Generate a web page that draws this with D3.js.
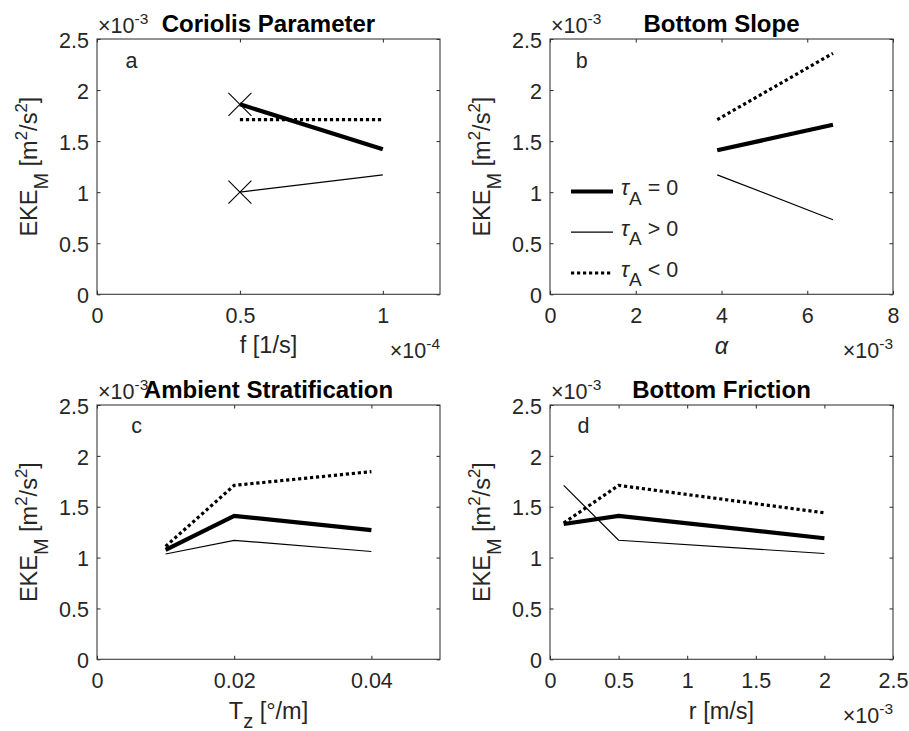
<!DOCTYPE html>
<html>
<head>
<meta charset="utf-8">
<script src="https://cdn.jsdelivr.net/npm/d3@7"></script>
<style>
  html, body { margin: 0; padding: 0; background: #fff; }
  svg { display: block; font-family: "Liberation Sans", Arial, Helvetica, sans-serif; }
</style>
</head>
<body>
<svg id="chart" width="909" height="731"></svg>
<script>
// EKE_M (×10^-3 m^2/s^2) against each varied parameter, for three wind cases.
const yTicks = [0, 0.5, 1, 1.5, 2, 2.5];

// (a) Coriolis parameter, f in units of 1e-4 1/s
const fValues = [0.5, 1];
const fTauZero = [1.86, 1.42];
const fTauPos = [1.00, 1.17];
const fTauNeg = [1.71, 1.71];
const fMarkX = [0.5, 0.5];
const fMarkY = [1.86, 1.00];
const fTicks = [0, 0.5, 1];

// (b) Bottom slope, alpha in units of 1e-3
const alphaValues = [3.9, 6.6];
const alphaTauZero = [1.41, 1.66];
const alphaTauPos = [1.17, 0.73];
const alphaTauNeg = [1.71, 2.36];
const alphaTicks = [0, 2, 4, 6, 8];

// (c) Ambient stratification, Tz in °/m
const tzValues = [0.01, 0.02, 0.04];
const tzTauZero = [1.075, 1.41, 1.27];
const tzTauPos = [1.035, 1.17, 1.06];
const tzTauNeg = [1.11, 1.71, 1.845];
const tzTicks = [0, 0.02, 0.04];

// (d) Bottom friction, r in units of 1e-3 m/s
const rValues = [0.1, 0.5, 2];
const rTauZero = [1.33, 1.41, 1.19];
const rTauPos = [1.71, 1.17, 1.04];
const rTauNeg = [1.34, 1.71, 1.44];
const rTicks = [0, 0.5, 1, 1.5, 2, 2.5];

const legendLabels = ["= 0", "> 0", "< 0"];

const TICK_FS = 21.5, LABEL_FS = 23.5, TITLE_FS = 24;
const INK = "#262626";

const styles = {
  zero: { width: 4.2, dash: null },
  pos:  { width: 1.2, dash: null },
  neg:  { width: 3.2, dash: "3.2,2.8" }
};

const svg = d3.select("#chart");

// rich text helper: parts = [{t, sub, sup, italic, fs, shift}]
function rich(textSel, parts, baseSize) {
  let shift = 0;
  parts.forEach(p => {
    let target = 0, size = baseSize;
    if (p.sup) { target = -baseSize * 0.42; size = baseSize * 0.72; }
    if (p.sub) { target = baseSize * (p.shift || 0.45); size = baseSize * 0.85; }
    if (p.fs) size = p.fs;
    const ts = textSel.append("tspan").text(p.t)
      .attr("font-size", size)
      .attr("dy", target - shift);
    if (p.italic) ts.attr("font-style", "italic");
    shift = target;
  });
}

const panels = [
  { key: "a", box: { x: 97, y: 39, w: 343, h: 255.3 }, xDomain: [0, 1.2], xTicks: fTicks,
    xs: fValues, zero: fTauZero, pos: fTauPos, neg: fTauNeg,
    title: "Coriolis Parameter", tag: "a", tagX: 0.1, xExp: "-4",
    xLabel: [{ t: "f [1/s]" }], xLabelDy: 59 },
  { key: "b", box: { x: 550, y: 39, w: 343, h: 255.3 }, xDomain: [0, 8], xTicks: alphaTicks,
    xs: alphaValues, zero: alphaTauZero, pos: alphaTauPos, neg: alphaTauNeg,
    title: "Bottom Slope", tag: "b", tagX: 0.6, xExp: "-3",
    xLabel: [{ t: "α", italic: true }], xLabelDy: 60, legend: true },
  { key: "c", box: { x: 97, y: 405, w: 343, h: 254.3 }, xDomain: [0, 0.05], xTicks: tzTicks,
    xs: tzValues, zero: tzTauZero, pos: tzTauPos, neg: tzTauNeg,
    title: "Ambient Stratification", tag: "c", tagX: 0.005, xExp: null,
    xLabel: [{ t: "T" }, { t: "z", sub: true, shift: 0.36 }, { t: " [°/m]" }], xLabelDy: 60 },
  { key: "d", box: { x: 550, y: 405, w: 343, h: 254.3 }, xDomain: [0, 2.5], xTicks: rTicks,
    xs: rValues, zero: rTauZero, pos: rTauPos, neg: rTauNeg,
    title: "Bottom Friction", tag: "d", tagX: 0.2, xExp: "-3",
    xLabel: [{ t: "r [m/s]" }], xLabelDy: 60 }
];

const fmt = d => String(+d.toFixed(4));

panels.forEach(p => {
  const b = p.box;
  const x = d3.scaleLinear().domain(p.xDomain).range([b.x, b.x + b.w]);
  const y = d3.scaleLinear().domain([0, 2.5]).range([b.y + b.h, b.y]);
  const g = svg.append("g").attr("class", "panel-" + p.key);

  // axes with inward ticks on all four sides
  const tk = -3.5;
  const ax = g.append("g").attr("transform", `translate(0,${b.y + b.h})`)
    .call(d3.axisBottom(x).tickValues(p.xTicks).tickFormat(fmt).tickSize(tk).tickPadding(13.5));
  const axTop = g.append("g").attr("transform", `translate(0,${b.y})`)
    .call(d3.axisTop(x).tickValues(p.xTicks).tickSize(tk));
  const ay = g.append("g").attr("transform", `translate(${b.x},0)`)
    .call(d3.axisLeft(y).tickValues(yTicks).tickFormat(fmt).tickSize(tk).tickPadding(8));
  const ayR = g.append("g").attr("transform", `translate(${b.x + b.w},0)`)
    .call(d3.axisRight(y).tickValues(yTicks).tickSize(tk));
  [axTop, ayR].forEach(a => a.selectAll(".tick text").remove());
  [ax, axTop, ay, ayR].forEach(a => {
    a.select(".domain").remove();
    a.selectAll(".tick line").attr("stroke", INK).attr("stroke-width", 1);
    a.selectAll(".tick text").attr("fill", INK).attr("font-size", TICK_FS)
      .attr("font-family", "Liberation Sans, Arial, sans-serif");
  });
  ay.selectAll(".tick text").attr("dy", "0.38em");

  g.append("rect").attr("x", b.x).attr("y", b.y).attr("width", b.w).attr("height", b.h)
    .attr("fill", "none").attr("stroke", "#3a3a3a").attr("stroke-width", 1.1);

  // data lines
  const line = d3.line().x(d => x(d[0])).y(d => y(d[1]));
  [["pos", p.pos], ["zero", p.zero], ["neg", p.neg]].forEach(([k, vals]) => {
    const pts = p.xs.map((xv, i) => [xv, vals[i]]);
    const s = styles[k];
    g.append("path").datum(pts).attr("d", line)
      .attr("fill", "none").attr("stroke", "#000")
      .attr("stroke-width", s.width)
      .attr("stroke-dasharray", s.dash)
      .attr("stroke-linejoin", "miter");
  });

  // cross markers in panel a
  if (p.key === "a") {
    const ms = 11.5;
    fMarkX.forEach((mx, i) => {
      const cx = x(mx), cy = y(fMarkY[i]);
      g.append("path")
        .attr("d", `M${cx - ms},${cy - ms}L${cx + ms},${cy + ms}M${cx - ms},${cy + ms}L${cx + ms},${cy - ms}`)
        .attr("stroke", "#000").attr("stroke-width", 1.1).attr("fill", "none");
    });
  }

  // panel tag
  g.append("text").attr("x", x(p.tagX)).attr("y", y(2.22))
    .attr("font-size", TICK_FS).attr("fill", INK).text(p.tag);

  // y multiplier (drawn before the title so the title sits on top)
  const ym = g.append("text").attr("x", b.x + 1).attr("y", b.y - 6)
    .attr("fill", INK).attr("font-size", TICK_FS);
  rich(ym, [{ t: "×10" }, { t: "-3", sup: true }], TICK_FS);

  // title
  g.append("text").attr("x", b.x + b.w / 2).attr("y", b.y - 7)
    .attr("text-anchor", "middle").attr("font-size", TITLE_FS).attr("font-weight", "bold")
    .attr("fill", "#000").text(p.title);

  // x multiplier
  if (p.xExp) {
    const xm = g.append("text").attr("x", b.x + b.w).attr("y", b.y + b.h + 64)
      .attr("text-anchor", "end").attr("fill", INK).attr("font-size", TICK_FS);
    rich(xm, [{ t: "×10" }, { t: p.xExp, sup: true }], TICK_FS);
  }

  // x label
  const xl = g.append("text").attr("x", b.x + b.w / 2).attr("y", b.y + b.h + p.xLabelDy)
    .attr("text-anchor", "middle").attr("fill", INK).attr("font-size", LABEL_FS);
  rich(xl, p.xLabel, LABEL_FS);

  // y label
  const cy = b.y + b.h / 2, lx = b.x - 60;
  const yl = g.append("text").attr("transform", `translate(${lx},${cy}) rotate(-90)`)
    .attr("text-anchor", "middle").attr("fill", INK).attr("font-size", LABEL_FS);
  rich(yl, [{ t: "EKE" }, { t: "M", sub: true }, { t: " [m" }, { t: "2", sup: true },
            { t: "/s" }, { t: "2", sup: true }, { t: "]" }], LABEL_FS);

  // legend
  if (p.legend) {
    const keys = ["zero", "pos", "neg"];
    const baseY = [195, 235.7, 276.5];
    keys.forEach((k, i) => {
      const s = styles[k];
      const yy = baseY[i] - 3.5;
      g.append("line").attr("x1", b.x + 21).attr("x2", b.x + 63)
        .attr("y1", yy).attr("y2", yy)
        .attr("stroke", "#000").attr("stroke-width", s.width)
        .attr("stroke-dasharray", s.dash);
      const t = g.append("text").attr("x", b.x + 71).attr("y", baseY[i])
        .attr("fill", INK).attr("font-size", 21.5);
      rich(t, [{ t: "τ", italic: true }, { t: "A", sub: true, fs: 19 }, { t: " " + legendLabels[i] }], 21.5);
    });
  }
});
</script>
</body>
</html>
